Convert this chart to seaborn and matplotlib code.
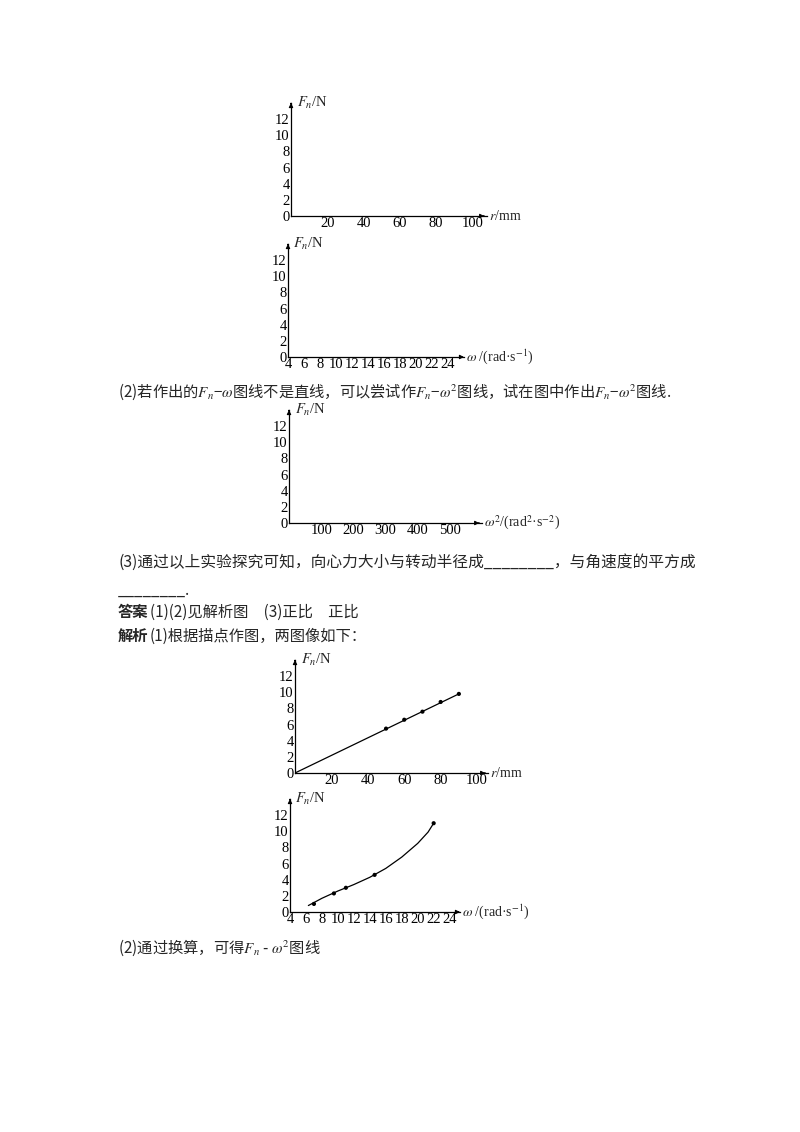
import matplotlib
matplotlib.use("Agg")
import matplotlib.pyplot as plt
import seaborn as sns

sns.set_theme(style="white")
plt.rcParams["font.family"] = ["Liberation Serif", "Noto Sans CJK SC"]
plt.rcParams["mathtext.fontset"] = "stix"

# data
y_ticks = [0, 2, 4, 6, 8, 10, 12]
r_ticks = [20, 40, 60, 80, 100]
w_ticks = [4, 6, 8, 10, 12, 14, 16, 18, 20, 22, 24]
w2_ticks = [100, 200, 300, 400, 500]

r_pts = [50, 60, 70, 80, 90]
F_r_pts = [5.5, 6.6, 7.6, 8.8, 9.8]
r_line = [0, 90]
F_r_line = [0, 9.8]

w_pts = [7.0, 9.5, 11.0, 14.6, 22.0]
F_w_pts = [1.0, 2.3, 3.0, 4.6, 11.0]
w_curve = [6.3, 8, 10, 12, 14, 16, 18, 20, 21.3, 22.0]
F_w_curve = [0.8, 1.7, 2.6, 3.4, 4.3, 5.4, 6.8, 8.5, 9.9, 11.0]

W, H = 800, 1132
fig = plt.figure(figsize=(W / 100, H / 100), dpi=100)
fig.patch.set_facecolor("white")


def panel(x0, y0, w, h, xlim, xticks, xlabel, show_x0=False):
    ax = fig.add_axes([x0 / W, 1 - y0 / H, w / W, h / H])
    ax.set_facecolor("none")
    ax.set_xlim(*xlim)
    ax.set_ylim(0, 14)
    for s in ["top", "right"]:
        ax.spines[s].set_visible(False)
    for s in ["left", "bottom"]:
        ax.spines[s].set_color("black")
        ax.spines[s].set_linewidth(0.9)
    ax.set_yticks(y_ticks)
    ax.set_xticks(xticks)
    ax.tick_params(direction="in", length=3, width=0.8, labelsize=10.5, pad=1, colors="black")
    ax.annotate("", xy=(1, 0), xytext=(0.97, 0), xycoords="axes fraction",
                arrowprops=dict(arrowstyle="-|>", color="black", lw=0.8, mutation_scale=6))
    ax.annotate("", xy=(0, 1), xytext=(0, 0.97), xycoords="axes fraction",
                arrowprops=dict(arrowstyle="-|>", color="black", lw=0.8, mutation_scale=6))
    ax.text(0.03, 1.0, r"$F_n$/N", transform=ax.transAxes, fontsize=10.5, va="center", ha="left")
    ax.text(1.01, 0.0, xlabel, transform=ax.transAxes, fontsize=10, va="center", ha="left")
    ax.grid(False)
    return ax


panel(291, 216, 196, 113, (0, 108), r_ticks, r"$r$/mm")
panel(288, 357, 176, 113, (4, 26), w_ticks, r"$\omega$ /(rad·s$^{-1}$)")
panel(289, 523, 193, 113, (0, 600), w2_ticks, r"$\omega^2$/(rad$^2$·s$^{-2}$)")

ax4 = panel(295, 773, 193, 113, (0, 106), r_ticks, r"$r$/mm")
sns.lineplot(x=r_line, y=F_r_line, ax=ax4, color="black", lw=0.9)
sns.scatterplot(x=r_pts, y=F_r_pts, ax=ax4, color="black", s=9, edgecolor="none")

ax5 = panel(290, 912, 170, 113, (4, 25.3), w_ticks, r"$\omega$ /(rad·s$^{-1}$)")
sns.lineplot(x=w_curve, y=F_w_curve, ax=ax5, color="black", lw=0.9, sort=False)
sns.scatterplot(x=w_pts, y=F_w_pts, ax=ax5, color="black", s=9, edgecolor="none")

fam = ["Noto Sans CJK SC", "DejaVu Sans"]


def line(x, y, s, size=11, **kw):
    fig.text(x / W, 1 - y / H, s, fontsize=size, va="center", ha="left", family=fam, **kw)


line(118, 392, r"(2)若作出的$F_n$−$\omega$图线不是直线，可以尝试作$F_n$−$\omega^2$图线，试在图中作出$F_n$−$\omega^2$图线.")
line(118, 562, "(3)通过以上实验探究可知，向心力大小与转动半径成________，与角速度的平方成", size=11.3)
line(118, 590, "________.")
line(118, 612, "答案", weight="bold")
line(150, 612, "(1)(2)见解析图　(3)正比　正比")
line(118, 636, "解析", weight="bold")
line(150, 636, "(1)根据描点作图，两图像如下：")
line(118, 948, r"(2)通过换算，可得$F_n$ - $\omega^2$图线")

fig.savefig("out.png", dpi=100)
